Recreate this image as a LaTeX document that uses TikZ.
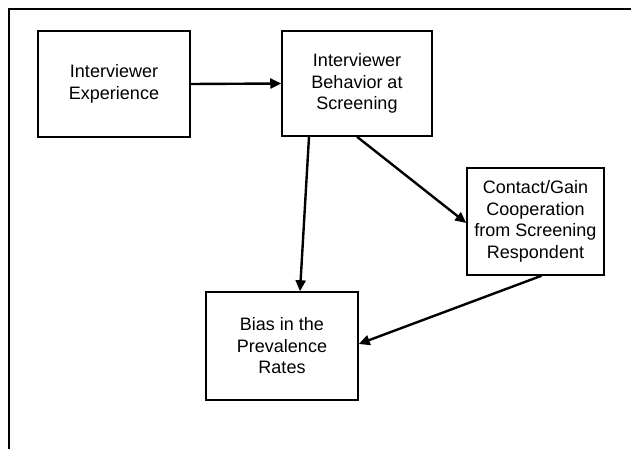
\documentclass[tikz,border=0pt]{standalone}
\usepackage{fontspec}
\setmainfont{Liberation Sans}
\usetikzlibrary{arrows.meta}
\begin{document}
\begin{tikzpicture}[x=1pt,y=-1pt,
  factor/.style={draw, line width=1.5pt, rectangle, align=center,
    font=\fontsize{18}{21.5}\selectfont, inner sep=0pt},
  link/.style={line width=2.4pt, -{Triangle[length=11pt,width=10pt]}}]
\useasboundingbox (0,0) rectangle (631,449);
% open frame: left and top edges only
\draw[line width=2.4pt] (9,449) -- (9,9) -- (631,9);

\node[factor, minimum width=152pt, minimum height=106pt] (exp) at (114,84)
  {Interviewer\\Experience};
\node[factor, minimum width=150pt, minimum height=105pt] (beh) at (357,83.5)
  {Interviewer\\Behavior at\\Screening};
\node[factor, minimum width=137pt, minimum height=107pt] (coop) at (535.5,221.5)
  {Contact/Gain\\Cooperation\\from Screening\\Respondent};
\node[factor, minimum width=152pt, minimum height=108pt] (bias) at (282,346)
  {Bias in the\\Prevalence\\Rates};

\draw[link] (exp.east) -- (beh.west);
\draw[link] ([xshift=-48pt]beh.south) -- ([xshift=18pt]bias.north);
\draw[link] (beh.south) -- ([yshift=-1.5pt]coop.west);
\draw[link] ([xshift=6pt]coop.south) -- ([yshift=2pt]bias.east);
\end{tikzpicture}
\end{document}
